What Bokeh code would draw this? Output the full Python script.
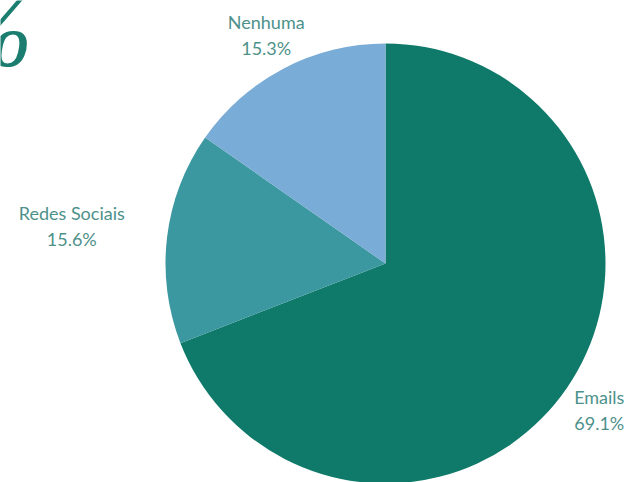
import numpy as np
from bokeh.plotting import figure
from bokeh.models import Range1d, ColumnDataSource
from bokeh.core.properties import value
from bokeh.embed import file_html
from bokeh.resources import INLINE

# ---- data ----
categories = ["Emails", "Redes Sociais", "Nenhuma"]
shares = [69.1, 15.6, 15.3]
pct_labels = ["69.1%", "15.6%", "15.3%"]

# ---- style ----
colors = ["#0f7a6a", "#3b97a0", "#79acd6"]
label_dist = [259, 316, 258]
text_color = "#4e918b"

W, H = 626, 482
SCREEN_H = 482
p = figure(width=W, height=H, x_range=Range1d(0, W), y_range=Range1d(SCREEN_H - H, SCREEN_H),
           output_backend="svg", toolbar_location=None, min_border=0)
p.axis.visible = False
p.grid.visible = False
p.outline_line_color = None
p.background_fill_color = "white"
p.border_fill_color = "white"

cx, cy, R = 385, SCREEN_H - 263, 220

fr = np.array(shares) / np.sum(shares)
cum = np.concatenate([[0], np.cumsum(fr)])
start = np.pi / 2 - 2 * np.pi * cum[:-1]
end = np.pi / 2 - 2 * np.pi * cum[1:]
mid = (start + end) / 2

src = ColumnDataSource(dict(start=start, end=end, color=colors, cat=categories))
p.wedge(x=cx, y=cy, radius=R, start_angle="start", end_angle="end", direction="clock",
        fill_color="color", line_color=None, source=src)

d = np.array(label_dist)
lx = cx + d * np.cos(mid)
ly = cy + d * np.sin(mid)
lab = ColumnDataSource(dict(x=lx, y1=ly + 13, y2=ly - 13, name=categories, pct=pct_labels))
p.text(x="x", y="y1", text="name", source=lab, text_align="center", text_baseline="middle",
       text_font=value("Lato"), text_font_size="18px", text_color=text_color)
p.text(x="x", y="y2", text="pct", source=lab, text_align="center", text_baseline="middle",
       text_font=value("Lato"), text_font_size="18px", text_color=text_color)

# decorative percent sign at top-left
p.text(x=[32], y=[SCREEN_H - 31], text=["%"], text_align="right", text_baseline="alphabetic",
       text_font=value("Liberation Serif"), text_font_style="italic", text_font_size="100px",
       text_color="#1a7d70")

open("out.html", "w").write(file_html(p, INLINE))
